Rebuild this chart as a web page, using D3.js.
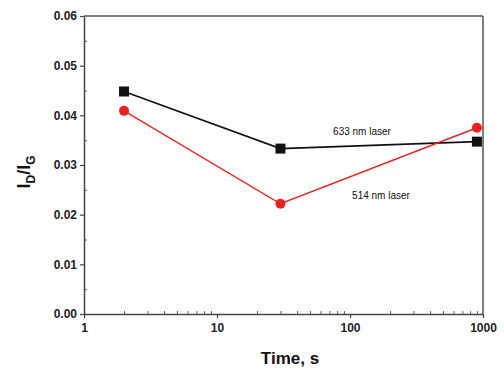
<!DOCTYPE html>
<html>
<head>
<meta charset="utf-8">
<script src="https://cdn.jsdelivr.net/npm/d3@7"></script>
<style>
  body { margin: 0; background: #fff; }
  text { font-family: "Liberation Sans", Arial, sans-serif; }
</style>
</head>
<body>
<script>
const chart_width = 504;
const chart_height = 370;

// values
const times = [2, 30, 900];
const red633 = [0.0448, 0.0333, 0.0347];   // black squares, 633 nm
const red514 = [0.0409, 0.0222, 0.0375];   // red circles, 514 nm
const yTicks = [0, 0.01, 0.02, 0.03, 0.04, 0.05, 0.06];
const xTicks = [1, 10, 100, 1000];

const margin = {top: 16, right: 21, bottom: 56, left: 84};

const svg = d3.select('body').append('svg')
    .attr('width', chart_width).attr('height', chart_height);

const x = d3.scaleLog().domain([1, 1000]).range([margin.left, chart_width - margin.right]);
const y = d3.scaleLinear().domain([0, 0.06]).range([chart_height - margin.bottom, margin.top]);

// minor ticks, pointing in
const minorX = [];
[1, 10, 100].forEach(d => { for (let k = 2; k <= 9; k++) minorX.push(d * k); });
svg.append('g')
    .attr('transform', `translate(0,${y(0)})`)
    .call(d3.axisBottom(x).tickValues(minorX).tickSize(-3).tickFormat(''))
    .call(g => g.select('.domain').remove())
    .selectAll('line').attr('stroke', '#666');
svg.append('g')
    .attr('transform', `translate(${x(1)},0)`)
    .call(d3.axisLeft(y).tickValues(d3.range(0.005, 0.06, 0.01)).tickSize(-3).tickFormat(''))
    .call(g => g.select('.domain').remove())
    .selectAll('line').attr('stroke', '#666');

// main axes
const xAxis = svg.append('g')
    .attr('transform', `translate(0,${y(0)})`)
    .call(d3.axisBottom(x).tickValues(xTicks).tickFormat(d3.format('d')).tickSize(4).tickSizeOuter(0));
const yAxis = svg.append('g')
    .attr('transform', `translate(${x(1)},0)`)
    .call(d3.axisLeft(y).tickValues(yTicks).tickFormat(d3.format('.2f')).tickSize(4).tickSizeOuter(0));

[xAxis, yAxis].forEach(a => {
  a.select('.domain').attr('stroke', '#444').attr('stroke-width', 1.5);
  a.selectAll('.tick line').attr('stroke', '#444').attr('stroke-width', 1.2);
  a.selectAll('.tick text')
    .attr('font-size', 12).attr('font-weight', 'bold').attr('fill', '#222');
});
xAxis.selectAll('.tick text').attr('dy', '0.9em');

// top and right frame
svg.append('line')
    .attr('x1', x(1)).attr('x2', x(1000)).attr('y1', y(0.06)).attr('y2', y(0.06))
    .attr('stroke', '#555').attr('stroke-width', 1.5);
svg.append('line')
    .attr('x1', x(1000)).attr('x2', x(1000)).attr('y1', y(0.06)).attr('y2', y(0))
    .attr('stroke', '#555').attr('stroke-width', 1.5);

const line = d3.line().x(d => x(d[0])).y(d => y(d[1]));

const blackPts = times.map((t, i) => [t, red633[i]]);
const redPts = times.map((t, i) => [t, red514[i]]);

svg.append('path').datum(blackPts)
    .attr('d', line).attr('fill', 'none').attr('stroke', '#111').attr('stroke-width', 1.6);
svg.append('path').datum(redPts)
    .attr('d', line).attr('fill', 'none').attr('stroke', '#e8231f').attr('stroke-width', 1.4);

svg.selectAll('.sq').data(blackPts).enter().append('rect')
    .attr('x', d => x(d[0]) - 5).attr('y', d => y(d[1]) - 5)
    .attr('width', 10).attr('height', 10).attr('fill', '#111');
svg.selectAll('.ci').data(redPts).enter().append('circle')
    .attr('cx', d => x(d[0])).attr('cy', d => y(d[1])).attr('r', 5)
    .attr('fill', '#e8231f');

svg.append('text')
    .attr('x', 362).attr('y', 135).attr('text-anchor', 'middle')
    .attr('font-size', 10).attr('fill', '#111').text('633 nm laser');
svg.append('text')
    .attr('x', 381).attr('y', 199).attr('text-anchor', 'middle')
    .attr('font-size', 10).attr('fill', '#111').text('514 nm laser');

// axis titles
svg.append('text')
    .attr('x', 290).attr('y', 364).attr('text-anchor', 'middle')
    .attr('font-size', 17).attr('font-weight', 'bold').attr('fill', '#111')
    .text('Time, s');

const yl = svg.append('text')
    .attr('transform', 'translate(30,172) rotate(-90)')
    .attr('text-anchor', 'middle')
    .attr('font-size', 18).attr('font-weight', 'bold').attr('fill', '#111');
yl.append('tspan').text('I');
yl.append('tspan').attr('font-size', 12).attr('dy', 5).text('D');
yl.append('tspan').attr('dy', -5).text('/I');
yl.append('tspan').attr('font-size', 12).attr('dy', 5).text('G');
</script>
</body>
</html>
